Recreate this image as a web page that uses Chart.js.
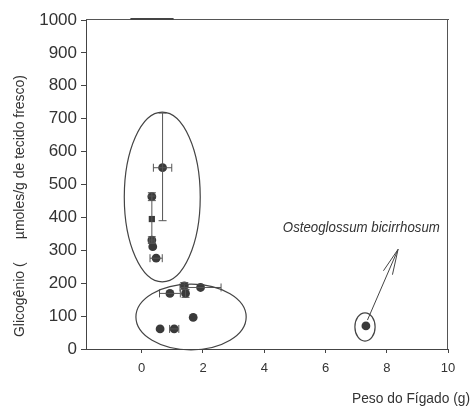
<!DOCTYPE html>
<html>
<head>
<meta charset="utf-8">
<script src="https://cdn.jsdelivr.net/npm/chart.js@4.4.1/dist/chart.umd.min.js"></script>
<style>
  html, body { margin: 0; padding: 0; background: #fff; }
  #wrap { width: 471px; height: 408px; }
</style>
</head>
<body>
<div id="wrap"><canvas id="chart" width="471" height="408"></canvas></div>
<script>
// liver weight (g) vs glycogen (umoles/g fresh tissue)
const pesoFigado = [0.68, 0.33, 0.33, 0.33, 0.36, 0.47, 1.39, 1.92, 0.92, 1.43, 1.68, 0.60, 1.06, 7.32];
const glicogenio = [551, 463, 395, 331, 311, 276, 192, 187, 169, 169, 96, 61, 61, 70];
const erroX = [0.30, 0, 0, 0.08, 0, 0.20, 0, 0.67, 0.34, 0, 0, 0, 0.15, 0];
const erroYmais = [166, 12, 70, 10, 0, 0, 10, 0, 0, 12, 0, 0, 0, 0];
const erroYmenos = [161, 12, 70, 10, 0, 0, 10, 0, 0, 12, 0, 0, 0, 0];
const formato = ["circle", "circle", "rect", "circle", "circle", "circle", "circle",
  "circle", "circle", "circle", "circle", "circle", "circle", "circle"];

const xTicks = [0, 2, 4, 6, 8, 10];
const yTicks = [0, 100, 200, 300, 400, 500, 600, 700, 800, 900, 1000];

// groups circled on the figure (centre / radius in data units)
const elipseCx = [0.67, 1.61, 7.29];
const elipseCy = [462, 97, 67];
const elipseRx = [1.24, 1.80, 0.33];
const elipseRy = [258, 100, 43];

const setaDe = [7.37, 88];
const setaPara = [8.37, 303];
const especie = "Osteoglossum bicirrhosum";
const especiePos = [7.17, 368];

const ink = "#3a3a3a";

// draw text squeezed to a given width (the original uses a narrow face)
function fitText(ctx, text, x, y, width, font) {
  ctx.save();
  ctx.font = font;
  const w = ctx.measureText(text).width;
  ctx.translate(x, y);
  ctx.scale(width / w, 1);
  ctx.textAlign = "center";
  ctx.textBaseline = "middle";
  ctx.fillText(text, 0, 0);
  ctx.restore();
}

const extras = {
  id: "extras",
  afterDraw(chart) {
    const { ctx, chartArea: a } = chart;
    const xs = chart.scales.x, ys = chart.scales.y;
    ctx.save();

    // frame top / right
    const L = Math.round(a.left), R = Math.round(a.right), T = Math.round(a.top), B = Math.round(a.bottom);
    ctx.fillStyle = "#555";
    ctx.fillRect(L, T - 1, R - L + 1, 1);
    ctx.fillRect(R - 1, T - 1, 1, B - T + 1);
    ctx.fillStyle = "#444";
    const s0 = xs.getPixelForValue(-0.37), s1 = xs.getPixelForValue(1.04);
    ctx.fillRect(s0, T - 2, s1 - s0, 2);

    // error bars
    ctx.strokeStyle = "#555";
    ctx.lineWidth = 1;
    const cap = 4;
    pesoFigado.forEach((xv, i) => {
      const px = xs.getPixelForValue(xv), py = ys.getPixelForValue(glicogenio[i]);
      if (erroX[i] > 0) {
        const l = xs.getPixelForValue(xv - erroX[i]), r = xs.getPixelForValue(xv + erroX[i]);
        ctx.beginPath();
        ctx.moveTo(l, py); ctx.lineTo(r, py);
        ctx.moveTo(l, py - cap); ctx.lineTo(l, py + cap);
        ctx.moveTo(r, py - cap); ctx.lineTo(r, py + cap);
        ctx.stroke();
      }
      if (erroYmais[i] > 0 || erroYmenos[i] > 0) {
        const t = ys.getPixelForValue(glicogenio[i] + erroYmais[i]);
        const b = ys.getPixelForValue(glicogenio[i] - erroYmenos[i]);
        ctx.beginPath();
        ctx.moveTo(px, t); ctx.lineTo(px, b);
        ctx.moveTo(px - cap, t); ctx.lineTo(px + cap, t);
        ctx.moveTo(px - cap, b); ctx.lineTo(px + cap, b);
        ctx.stroke();
      }
    });

    // ellipses
    ctx.strokeStyle = "#444";
    ctx.lineWidth = 1.2;
    elipseCx.forEach((cx, i) => {
      const px = xs.getPixelForValue(cx), py = ys.getPixelForValue(elipseCy[i]);
      const rx = Math.abs(xs.getPixelForValue(cx + elipseRx[i]) - px);
      const ry = Math.abs(ys.getPixelForValue(elipseCy[i] + elipseRy[i]) - py);
      ctx.beginPath();
      ctx.ellipse(px, py, rx, ry, 0, 0, Math.PI * 2);
      ctx.stroke();
    });

    // arrow
    const x0 = xs.getPixelForValue(setaDe[0]), y0 = ys.getPixelForValue(setaDe[1]);
    const x1 = xs.getPixelForValue(setaPara[0]), y1 = ys.getPixelForValue(setaPara[1]);
    const ang = Math.atan2(y0 - y1, x0 - x1);
    ctx.lineWidth = 1;
    ctx.beginPath();
    ctx.moveTo(x0, y0); ctx.lineTo(x1, y1);
    [-0.19, 0.19].forEach(d => {
      ctx.moveTo(x1, y1);
      ctx.lineTo(x1 + 26 * Math.cos(ang + d), y1 + 26 * Math.sin(ang + d));
    });
    ctx.stroke();

    // labels
    ctx.fillStyle = "#333";
    fitText(ctx, especie, xs.getPixelForValue(especiePos[0]), ys.getPixelForValue(especiePos[1]),
      157, "italic 14px 'Liberation Sans', Arial, sans-serif");
    fitText(ctx, "Peso do Fígado (g)", 411, 399, 118, "15px 'Liberation Sans', Arial, sans-serif");
    ctx.save();
    ctx.translate(20, 206);
    ctx.rotate(-Math.PI / 2);
    fitText(ctx, "Glicogênio (      µmoles/g de tecido fresco)", 0, 0, 262,
      "14px 'Liberation Sans', Arial, sans-serif");
    ctx.restore();

    ctx.restore();
  }
};

new Chart(document.getElementById("chart"), {
  type: "scatter",
  data: {
    datasets: [{
      data: pesoFigado.map((x, i) => ({ x: x, y: glicogenio[i] })),
      pointStyle: formato,
      pointRadius: 4.4,
      backgroundColor: ink,
      borderColor: ink,
      borderWidth: 0
    }]
  },
  options: {
    responsive: false,
    animation: false,
    devicePixelRatio: 1,
    layout: { padding: { top: 20, right: 23, left: 0, bottom: 0 } },
    plugins: { legend: { display: false }, tooltip: { enabled: false } },
    scales: {
      x: {
        type: "linear",
        min: -1.82,
        max: 10,
        afterBuildTicks: s => { s.ticks = xTicks.map(v => ({ value: v })); },
        afterFit: s => { s.height = 59; },
        grid: { display: true, drawOnChartArea: false, tickLength: 4, color: "#444" },
        border: { display: true, color: "#444", width: 1 },
        ticks: {
          padding: 8,
          color: "#333",
          callback: v => String(v),
          font: { family: "'Liberation Sans', Arial, sans-serif", size: 13 }
        }
      },
      y: {
        min: 0,
        max: 1000,
        afterBuildTicks: s => { s.ticks = yTicks.map(v => ({ value: v })); },
        afterFit: s => { s.width = 86; },
        grid: { display: true, drawOnChartArea: false, tickLength: 5, color: "#444" },
        border: { display: true, color: "#444", width: 1 },
        ticks: {
          padding: 4,
          color: "#333",
          callback: v => String(v),
          font: { family: "'Liberation Sans', Arial, sans-serif", size: 17 }
        }
      }
    }
  },
  plugins: [extras]
});
</script>
</body>
</html>
